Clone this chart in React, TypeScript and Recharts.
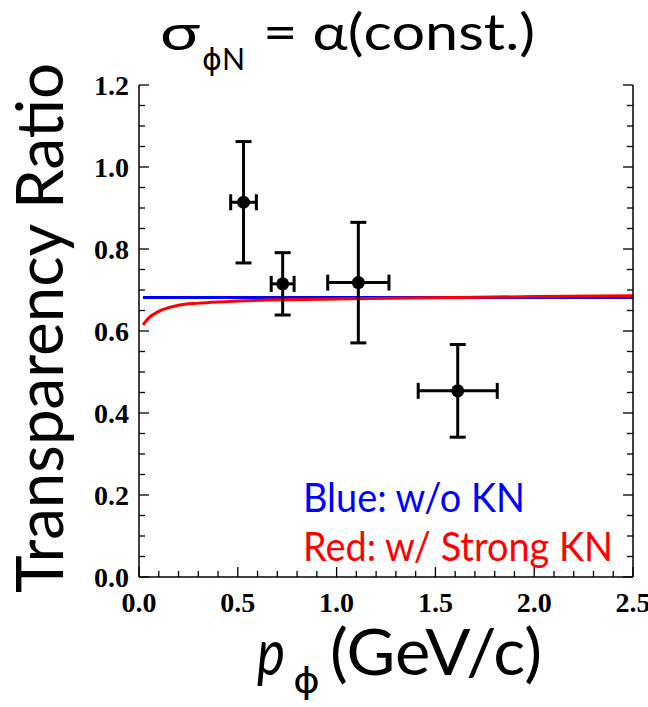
import React from "react";
import {
  ComposedChart,
  Line,
  Scatter,
  ErrorBar,
  XAxis,
  YAxis,
} from "recharts";

// measured points (p_phi in GeV/c, transparency ratio)
const pMomentum = [0.529, 0.727, 1.11, 1.613];
const pMomentumErr = [0.065, 0.058, 0.155, 0.2];
const ratio = [0.914, 0.715, 0.718, 0.454];
const ratioErr = [0.148, 0.076, 0.147, 0.113];

// blue: w/o KN
const blueX = [0.02, 2.5];
const blueY = [0.682, 0.682];

// red: w/ strong KN
const redX = [0.02, 0.05, 0.1, 0.15, 0.2, 0.3, 0.4, 0.5, 0.7, 1.0, 1.5, 2.0, 2.5];
const redY = [0.615, 0.632, 0.648, 0.657, 0.663, 0.668, 0.671, 0.673, 0.676, 0.678, 0.681, 0.684, 0.686];

const xTicks = [
  0, 0.1, 0.2, 0.3, 0.4, 0.5, 0.6, 0.7, 0.8, 0.9, 1.0, 1.1, 1.2, 1.3, 1.4, 1.5,
  1.6, 1.7, 1.8, 1.9, 2.0, 2.1, 2.2, 2.3, 2.4, 2.5,
];
const yTicks = [
  0, 0.05, 0.1, 0.15, 0.2, 0.25, 0.3, 0.35, 0.4, 0.45, 0.5, 0.55, 0.6, 0.65,
  0.7, 0.75, 0.8, 0.85, 0.9, 0.95, 1.0, 1.05, 1.1, 1.15, 1.2,
];

const points = pMomentum.map((x, i) => ({
  x,
  y: ratio[i],
  ex: pMomentumErr[i],
  ey: ratioErr[i],
}));
const blueData = blueX.map((x, i) => ({ x, y: blueY[i] }));
const redData = redX.map((x, i) => ({ x, y: redY[i] }));

const isMajorX = (v: number) => Math.abs(v * 2 - Math.round(v * 2)) < 1e-6;
const isMajorY = (v: number) => Math.abs(v * 5 - Math.round(v * 5)) < 1e-6;

const tickFont = {
  fontFamily: "'Liberation Serif', 'Times New Roman', serif",
  fontWeight: "bold" as const,
  fontSize: 28,
};

const BottomTick = (props: any) => {
  const { x, y, payload } = props;
  const major = isMajorX(payload.value);
  return (
    <g>
      <line x1={x} y1={y} x2={x} y2={y - (major ? 10 : 6)} stroke="#000" strokeWidth={1.3} />
      {major && (
        <text x={x} y={y + 35} textAnchor="middle" fill="#000" {...tickFont}>
          {payload.value.toFixed(1)}
        </text>
      )}
    </g>
  );
};

const TopTick = (props: any) => {
  const { x, y, payload } = props;
  const major = isMajorX(payload.value);
  return <line x1={x} y1={y} x2={x} y2={y + (major ? 10 : 6)} stroke="#000" strokeWidth={1.3} />;
};

const LeftTick = (props: any) => {
  const { x, y, payload } = props;
  const major = isMajorY(payload.value);
  return (
    <g>
      <line x1={x} y1={y} x2={x + (major ? 10 : 6)} y2={y} stroke="#000" strokeWidth={1.3} />
      {major && (
        <text x={x - 10} y={y + 10} textAnchor="end" fill="#000" {...tickFont}>
          {payload.value.toFixed(1)}
        </text>
      )}
    </g>
  );
};

const RightTick = (props: any) => {
  const { x, y, payload } = props;
  const major = isMajorY(payload.value);
  return <line x1={x} y1={y} x2={x - (major ? 10 : 6)} y2={y} stroke="#000" strokeWidth={1.3} />;
};

const Dot = (p: any) => <circle cx={p.cx} cy={p.cy} r={6.5} fill="#000" />;

const sans = "Lato, 'Open Sans', sans-serif";
const phiFont = "'DejaVu Sans', sans-serif";

export default function App() {
  return (
    <div style={{ position: "absolute", left: 0, top: 0, width: 648, height: 707, background: "#fff" }}>
      <ComposedChart
        width={648}
        height={707}
        margin={{ top: 85, right: 0, bottom: 0, left: 0 }}
      >
        <XAxis
          dataKey="x"
          type="number"
          domain={[0, 2.5]}
          ticks={xTicks}
          interval={0}
          height={130}
          tickSize={0}
          tickMargin={0}
          tick={<BottomTick />}
          axisLine={{ stroke: "#000", strokeWidth: 1.5 }}
          allowDataOverflow
        />
        <XAxis
          xAxisId="top"
          orientation="top"
          dataKey="x"
          type="number"
          domain={[0, 2.5]}
          ticks={xTicks}
          interval={0}
          height={0}
          tickSize={0}
          tickMargin={0}
          tick={<TopTick />}
          axisLine={{ stroke: "#000", strokeWidth: 1.5 }}
          allowDataOverflow
        />
        <YAxis
          type="number"
          domain={[0, 1.2]}
          ticks={yTicks}
          interval={0}
          width={139}
          tickSize={0}
          tickMargin={0}
          tick={<LeftTick />}
          axisLine={{ stroke: "#000", strokeWidth: 1.5 }}
          allowDataOverflow
        />
        <YAxis
          yAxisId="right"
          orientation="right"
          type="number"
          domain={[0, 1.2]}
          ticks={yTicks}
          interval={0}
          width={15}
          tickSize={0}
          tickMargin={0}
          tick={<RightTick />}
          axisLine={{ stroke: "#000", strokeWidth: 1.5 }}
          allowDataOverflow
        />
        <Line
          data={blueData}
          dataKey="y"
          type="linear"
          stroke="#0000ff"
          strokeWidth={3}
          dot={false}
          isAnimationActive={false}
        />
        <Line
          data={redData}
          dataKey="y"
          type="monotone"
          stroke="#ff0000"
          strokeWidth={3}
          dot={false}
          isAnimationActive={false}
        />
        <Scatter data={points} dataKey="y" shape={<Dot />} isAnimationActive={false}>
          <ErrorBar dataKey="ey" direction="y" width={8} stroke="#000" strokeWidth={3} isAnimationActive={false} />
          <ErrorBar dataKey="ex" direction="x" width={8} stroke="#000" strokeWidth={3} isAnimationActive={false} />
        </Scatter>
      </ComposedChart>
      <svg
        width={648}
        height={707}
        style={{ position: "absolute", left: 0, top: 0, pointerEvents: "none" }}
      >
        <g fontFamily={sans} fill="#000">
          <text x={160} y={50} fontSize={50} textLength={40} lengthAdjust="spacingAndGlyphs">σ</text>
          <text x={202} y={70} fontSize={30} textLength={43} lengthAdjust="spacingAndGlyphs">
            <tspan fontFamily={phiFont}>ϕ</tspan>N
          </text>
          <text x={263} y={50} fontSize={50} textLength={272} lengthAdjust="spacingAndGlyphs">= α(const.)</text>
          <text
            transform="translate(63,328) rotate(-90)"
            textAnchor="middle"
            fontSize={66}
            textLength={530}
            lengthAdjust="spacingAndGlyphs"
          >
            Transparency Ratio
          </text>
          <text x={257} y={675} fontSize={64} fontStyle="italic" textLength={28} lengthAdjust="spacingAndGlyphs">p</text>
          <text x={293} y={693} fontSize={36} fontFamily={phiFont} textLength={27} lengthAdjust="spacingAndGlyphs">ϕ</text>
          <text x={330} y={675} fontSize={64} textLength={212} lengthAdjust="spacingAndGlyphs">(GeV/c)</text>
        </g>
        <g fontFamily={sans} fontSize={40}>
          <text x={303} y={512} fill="#0000ff" textLength={222} lengthAdjust="spacingAndGlyphs">Blue: w/o KN</text>
          <text x={303} y={561} fill="#ff0000" textLength={310} lengthAdjust="spacingAndGlyphs">Red: w/ Strong KN</text>
        </g>
      </svg>
    </div>
  );
}
